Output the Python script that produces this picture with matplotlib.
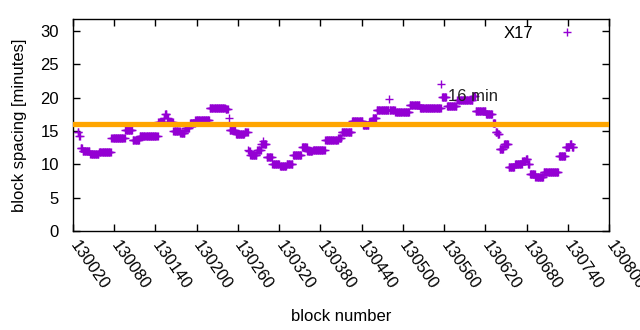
import numpy as np
import matplotlib
matplotlib.use("Agg")
import matplotlib.pyplot as plt

plt.rcParams['font.family'] = ['Liberation Sans', 'DejaVu Sans']

# Runs of block spacing values: first block, last block, value (minutes)
run_start = [130027, 130029, 130031, 130034, 130045, 130058, 130076, 130096, 130107, 130117,
             130144, 130152, 130154, 130157, 130159, 130166, 130176, 130183, 130190, 130198,
             130219, 130242, 130247, 130248, 130257, 130270, 130275, 130276, 130278, 130288,
             130294, 130297, 130298, 130302, 130310, 130321, 130331, 130340, 130353, 130361,
             130369, 130387, 130406, 130411, 130426, 130442, 130451, 130456, 130462, 130480,
             130481, 130489, 130510, 130525, 130556, 130557, 130564, 130579, 130602, 130606,
             130621, 130631, 130635, 130638, 130641, 130647, 130654, 130663, 130674, 130679,
             130682, 130685, 130693, 130705, 130727, 130737, 130743, 130746]
run_end = [130028, 130030, 130033, 130044, 130057, 130075, 130095, 130106, 130116, 130143,
           130151, 130153, 130156, 130158, 130165, 130175, 130182, 130189, 130197, 130218,
           130241, 130245, 130247, 130256, 130269, 130274, 130275, 130277, 130287, 130293,
           130296, 130297, 130301, 130309, 130320, 130330, 130339, 130352, 130360, 130368,
           130386, 130405, 130410, 130425, 130441, 130450, 130455, 130461, 130479, 130480,
           130488, 130509, 130524, 130555, 130556, 130563, 130578, 130601, 130605, 130620,
           130630, 130634, 130637, 130640, 130646, 130653, 130662, 130673, 130678, 130681,
           130684, 130692, 130704, 130726, 130736, 130742, 130745, 130748]
run_value = [14.8, 14.2, 12.5, 12.0, 11.5, 11.85, 13.9, 15.1, 13.6, 14.25,
             16.35, 16.9, 17.5, 17.0, 16.35, 15.0, 14.7, 15.4, 16.2, 16.7,
             18.5, 18.3, 17.0, 15.1, 14.6, 14.9, 12.2, 12.0, 11.4, 12.2,
             13.0, 13.5, 13.0, 11.1, 10.0, 9.8, 10.1, 11.4, 12.6, 12.0,
             12.15, 13.6, 13.9, 14.8, 16.5, 15.9, 16.4, 16.9, 18.2, 19.8,
             18.2, 17.9, 18.9, 18.5, 22.0, 20.1, 18.8, 19.6, 20.2, 18.0,
             17.5, 16.2, 14.9, 14.5, 12.3, 13.1, 9.6, 10.0, 10.5, 10.8,
             10.1, 8.5, 8.1, 8.9, 11.3, 12.6, 13.0, 12.6]
reference_minutes = 16
ref_label = "16 min"
series_name = "X17"
x_ticks = list(range(130020, 130801, 60))
y_ticks = [0, 5, 10, 15, 20, 25, 30]

blocks = np.concatenate([np.arange(s, e + 1) for s, e in zip(run_start, run_end)])
values = np.concatenate([np.full(e - s + 1, v) for s, e, v in zip(run_start, run_end, run_value)])

FS = 12
fig = plt.figure(figsize=(6.4, 3.3), dpi=100)
ax = fig.add_axes([73/640, 1 - 231/330, (609-73)/640, (231-19)/330])

ax.plot(blocks, values, linestyle='none', marker='+', color='#9400D3',
        markersize=6, markeredgewidth=1.0, label=series_name, zorder=2)
ax.axhline(reference_minutes, color='#FFA500', linewidth=3.8, zorder=3)
ax.text(130566, 20.1, ref_label, fontsize=FS, color='#222222', va='center', ha='left', zorder=4)

ax.set_xlim(130020, 130800)
ax.set_ylim(0, 31.8)
ax.set_xticks(x_ticks)
ax.set_xticklabels([str(t) for t in x_ticks], rotation=-55, ha='left', va='center',
                   rotation_mode='anchor', fontsize=FS)
ax.set_yticks(y_ticks)
ax.set_yticklabels([str(t) for t in y_ticks], fontsize=FS)
ax.tick_params(direction='in', top=True, right=True, length=5, width=1, colors='black')
ax.tick_params(axis='x', pad=8)
ax.tick_params(axis='y', pad=10)
for sp in ax.spines.values():
    sp.set_linewidth(1)

ax.set_xlabel('block number', fontsize=FS, labelpad=12)
ax.set_ylabel('block spacing [minutes]', fontsize=FS, labelpad=10)

leg = ax.legend(loc='upper right', markerfirst=False, frameon=False, fontsize=FS,
                handlelength=2.48, handletextpad=0.8, borderaxespad=0.3,
                bbox_to_anchor=(0.982, 1.024))

fig.savefig('out.png', dpi=100)
